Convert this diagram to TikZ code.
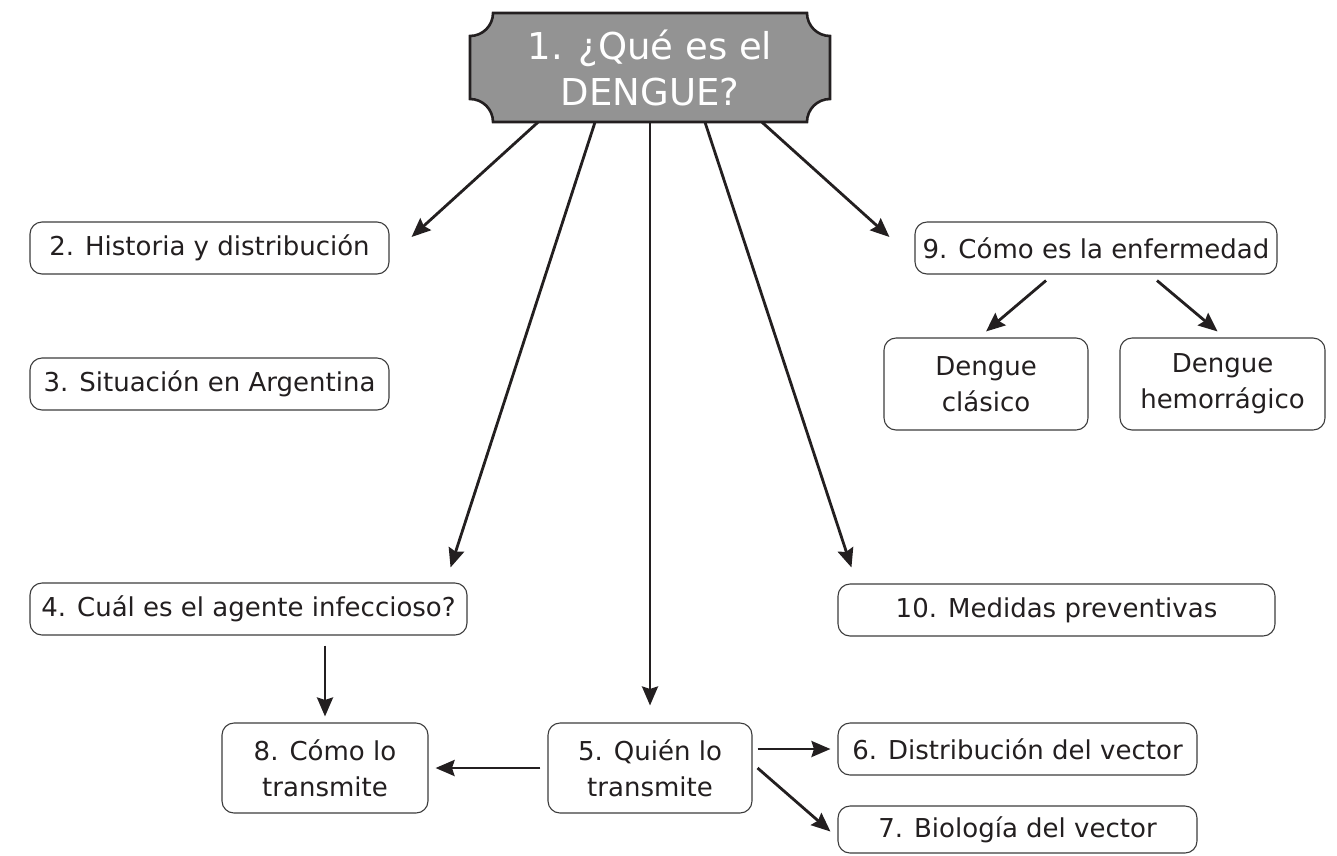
\documentclass[tikz,border=0pt]{standalone}
\usepackage{fontspec}
\setmainfont{DejaVu Sans}
\usetikzlibrary{arrows.meta,calc}
\definecolor{ink}{HTML}{231F20}
\definecolor{edge}{HTML}{3C3C3C}
\definecolor{plaquefill}{HTML}{939393}
\begin{document}
\begin{tikzpicture}[x=1pt,y=-1pt,
 box/.style={draw=edge, line width=1.1pt, rounded corners=12pt, fill=white, text=ink,
   inner sep=0pt, align=center, font=\fontsize{26}{36}\selectfont},
 arr/.style={draw=ink, line width=2.8pt, -{Stealth[length=19pt,width=16pt,inset=2.5pt]}}]
\useasboundingbox (0,0) rectangle (1337,855);
\fill[white] (0,0) rectangle (1337,855);
% plaque
\draw[fill=plaquefill, draw=ink, line width=2.6pt]
  (493,13) -- (807,13) .. controls (807,25.7) and (817.3,36) .. (830,36)
  -- (830,99) .. controls (817.3,99) and (807,109.3) .. (807,122)
  -- (493,122) .. controls (493,109.3) and (482.7,99) .. (470,99)
  -- (470,36) .. controls (482.7,36) and (493,25.7) .. (493,13) -- cycle;
\node[inner sep=0pt, minimum width=360pt, minimum height=109pt, text=white, align=center,
  font=\fontsize{37}{46}\selectfont] (q) at (650,67.5) {1. ¿Qué es el\\DENGUE?};
% boxes
\node[box, minimum width=359pt, minimum height=52pt] (b2) at (209.5,248) {2. Historia y distribución};
\node[box, minimum width=359pt, minimum height=52pt] (b3) at (209.5,384) {3. Situación en Argentina};
\node[box, minimum width=362pt, minimum height=52pt] (b9) at (1096,248) {9. Cómo es la enfermedad};
\node[box, minimum width=204pt, minimum height=92pt] (bc) at (986,384) {Dengue\\clásico};
\node[box, minimum width=205pt, minimum height=92pt] (bh) at (1222.5,384) {Dengue\\hemorrágico};
\node[box, minimum width=437pt, minimum height=52pt] (b4) at (248.5,609) {4. Cuál es el agente infeccioso?};
\node[box, minimum width=437pt, minimum height=52pt] (b10) at (1056.5,610) {10. Medidas preventivas};
\node[box, minimum width=206pt, minimum height=90pt] (b8) at (325,768) {8. Cómo lo\\transmite};
\node[box, minimum width=204pt, minimum height=90pt] (b5) at (650,768) {5. Quién lo\\transmite};
\node[box, minimum width=359pt, minimum height=52pt] (b6) at (1017.5,749) {6. Distribución del vector};
\node[box, minimum width=359pt, minimum height=47pt] (b7) at (1017.5,829.5) {7. Biología del vector};
% connectors
\draw[arr] ([shift={(-112,0)}]q.south) -- ([shift={(22,-11)}]b2.east);
\draw[arr] ([shift={(-55,0)}]q.south) -- ([shift={(-17,-15)}]b4.north east);
\draw[arr] (q.south) -- ([shift={(0,-17)}]b5.north);
\draw[arr] ([shift={(55,0)}]q.south) -- ([shift={(14,-16)}]b10.north west);
\draw[arr] ([shift={(112,0)}]q.south) -- ([shift={(-25,-11)}]b9.west);
\draw[arr] ([shift={(-50,6)}]b9.south) -- ([shift={(0,-6)}]bc.north);
\draw[arr] ([shift={(61,6)}]b9.south) -- ([shift={(-5,-6)}]bh.north);
\draw[arr] ($(b4.south -| b8.north)+(0,10)$) -- ([shift={(0,-6)}]b8.north);
\draw[arr, shorten <=7pt, shorten >=7pt] (b5.west) -- (b8.east);
\draw[arr, shorten <=5pt, shorten >=7pt] (b5.east |- b6.west) -- (b6.west);
\draw[arr] ([shift={(5,0)}]b5.east) -- ([shift={(-7,2)}]b7.west);
\end{tikzpicture}
\end{document}
